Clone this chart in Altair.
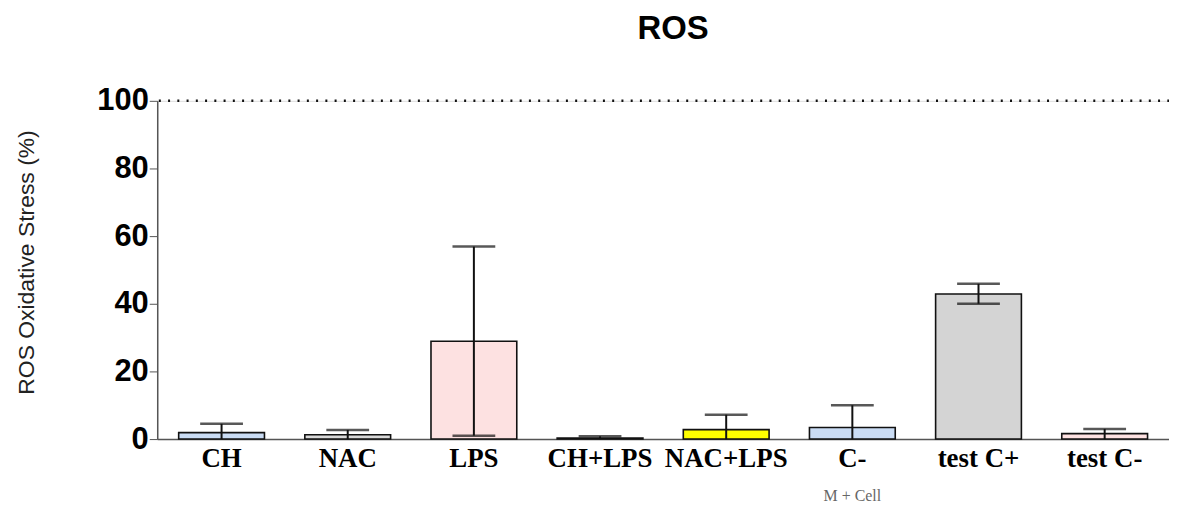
import altair as alt
import pandas as pd

categories = ["CH", "NAC", "LPS", "CH+LPS", "NAC+LPS", "C-", "test C+", "test C-"]
means = [1.9, 1.3, 28.9, 0.3, 2.8, 3.4, 42.9, 1.6]
err_upper = [4.5, 2.7, 56.9, 0.8, 7.2, 10.0, 45.9, 3.0]
err_lower = [0.0, 0.0, 1.0, 0.0, 0.0, 0.0, 40.0, 0.0]
fills = ["#cadcf4", "#d9d9d9", "#fde1e1", "#c8c8c8", "#ffff00", "#cadcf4", "#d4d4d4", "#fde1e1"]
y_ticks = [0, 20, 40, 60, 80, 100]
ref_line = [100]
note_cat = ["C-"]
note_text = ["M + Cell"]

df = pd.DataFrame({"cat": categories, "mean": means, "hi": err_upper, "lo": err_lower, "fill": fills})
low_caps = df[df["lo"] > 0]
notes = pd.DataFrame({"cat": note_cat, "txt": note_text})
refs = pd.DataFrame({"v": ref_line})

xenc = alt.X("cat:N", sort=categories,
             scale=alt.Scale(paddingInner=0.32, paddingOuter=0.17),
             axis=alt.Axis(title=None, labelAngle=0, labelFont="Liberation Serif",
                           labelFontSize=27, labelFontWeight="bold", labelColor="#000",
                           ticks=False, labelPadding=7, domainColor="#555", domainWidth=1.5))
yscale = alt.Scale(domain=[0, 100], nice=False)

bars = alt.Chart(df).mark_bar(stroke="#111", strokeWidth=1.6).encode(
    x=xenc,
    y=alt.Y("mean:Q", scale=yscale,
            axis=alt.Axis(values=y_ticks, grid=False, title="ROS Oxidative Stress (%)",
                          labelFont="Liberation Sans", labelFontSize=31, labelFontWeight="bold",
                          labelColor="#000", tickSize=8, tickColor="#555", domainColor="#555",
                          domainWidth=1.5, labelPadding=1,
                          titleFont="Liberation Sans", titleFontSize=23, titleFontWeight="normal",
                          titleColor="#222", titleAngle=-90, titleX=-131, titleY=162,
                          titleAlign="center", titleBaseline="middle")),
    fill=alt.Fill("fill:N", scale=None),
)

rules = alt.Chart(df).mark_rule(color="#111", strokeWidth=2).encode(
    x=alt.X("cat:N", sort=categories), y=alt.Y("lo:Q", scale=yscale), y2="hi:Q")

caps = alt.Chart(df).mark_tick(color="#111", size=43, thickness=2.5).encode(
    x=alt.X("cat:N", sort=categories), y=alt.Y("hi:Q", scale=yscale))

lcaps = alt.Chart(low_caps).mark_tick(color="#111", size=43, thickness=2.5).encode(
    x=alt.X("cat:N", sort=categories), y=alt.Y("lo:Q", scale=yscale))

dotted = alt.Chart(refs).mark_rule(color="#111", strokeWidth=2.5, strokeDash=[2, 7.3],
                                   strokeDashOffset=-9).encode(
    y=alt.Y("v:Q", scale=yscale))

note = alt.Chart(notes).mark_text(font="Liberation Serif", fontSize=16, color="#666",
                                  baseline="middle").encode(
    x=alt.X("cat:N", sort=categories), y=alt.value(397), text="txt:N")

chart = alt.layer(bars, rules, caps, lcaps, dotted, note).properties(
    width=1017, height=340,
    title=alt.TitleParams(text="ROS", font="Liberation Sans", fontSize=33, fontWeight="bold",
                          color="#000", anchor="middle", offset=39, dx=10),
    autosize=alt.AutoSizeParams(type="none"),
    padding={"left": 150, "top": 92, "right": 0, "bottom": 70},
).configure_view(stroke=None).configure(background="white")

chart.save("out.html", embed_options={"renderer": "svg", "actions": False})
